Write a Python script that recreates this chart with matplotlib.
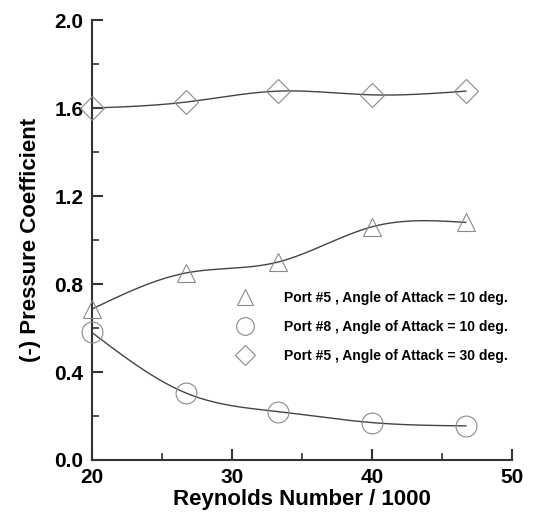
import numpy as np
import matplotlib
matplotlib.use("Agg")
import matplotlib.pyplot as plt
from matplotlib.ticker import MultipleLocator

plt.rcParams["font.family"] = ["Liberation Sans", "DejaVu Sans"]
plt.rcParams["font.weight"] = "bold"

# Data
reynolds = [20.0, 26.7, 33.3, 40.0, 46.7]
port5_aoa10 = [0.686, 0.85, 0.90, 1.06, 1.08]
port8_aoa10 = [0.58, 0.305, 0.22, 0.17, 0.155]
port5_aoa30 = [1.60, 1.627, 1.677, 1.66, 1.677]

series_labels = [
    "Port #5 , Angle of Attack = 10 deg.",
    "Port #8 , Angle of Attack = 10 deg.",
    "Port #5 , Angle of Attack = 30 deg.",
]


def natural_spline(x, y, n=200):
    """Natural cubic spline through (x, y)."""
    x = np.asarray(x, float)
    y = np.asarray(y, float)
    k = len(x)
    h = np.diff(x)
    A = np.zeros((k, k))
    b = np.zeros(k)
    A[0, 0] = 1.0
    A[-1, -1] = 1.0
    for i in range(1, k - 1):
        A[i, i - 1] = h[i - 1]
        A[i, i] = 2 * (h[i - 1] + h[i])
        A[i, i + 1] = h[i]
        b[i] = 6 * ((y[i + 1] - y[i]) / h[i] - (y[i] - y[i - 1]) / h[i - 1])
    m = np.linalg.solve(A, b)
    xs = np.linspace(x[0], x[-1], n)
    idx = np.clip(np.searchsorted(x, xs) - 1, 0, k - 2)
    x0, x1 = x[idx], x[idx + 1]
    y0, y1 = y[idx], y[idx + 1]
    m0, m1 = m[idx], m[idx + 1]
    hh = x1 - x0
    t1 = x1 - xs
    t0 = xs - x0
    ys = (m0 * t1 ** 3 + m1 * t0 ** 3) / (6 * hh) \
        + (y0 / hh - m0 * hh / 6) * t1 \
        + (y1 / hh - m1 * hh / 6) * t0
    return xs, ys


fig = plt.figure(figsize=(5.5, 5.2), dpi=100)
ax = fig.add_axes([0.167, 0.1154, 0.764, 0.846])

marker_color = "#8a8a8a"
line_color = "#444444"

series = [
    (port5_aoa10, "^", 13),
    (port8_aoa10, "o", 15),
    (port5_aoa30, "D", 12),
]
handles = []
for values, marker, size in series:
    xs, ys = natural_spline(reynolds, values)
    ax.plot(xs, ys, color=line_color, lw=1.0, zorder=2)
    h, = ax.plot(
        reynolds, values,
        linestyle="none",
        marker=marker,
        markersize=size,
        markerfacecolor="none",
        markeredgecolor=marker_color,
        markeredgewidth=0.8,
        zorder=3,
        clip_on=False
    )
    handles.append(h)

ax.set_xlim(20, 50)
ax.set_ylim(0.0, 2.0)
ax.xaxis.set_major_locator(MultipleLocator(10))
ax.xaxis.set_minor_locator(MultipleLocator(5))
ax.yaxis.set_major_locator(MultipleLocator(0.4))
ax.yaxis.set_minor_locator(MultipleLocator(0.2))
ax.yaxis.set_major_formatter(plt.FormatStrFormatter("%.1f"))

for side in ["top", "right"]:
    ax.spines[side].set_visible(False)
for side in ["left", "bottom"]:
    ax.spines[side].set_linewidth(1.5)
    ax.spines[side].set_color("#333333")

ax.tick_params(which="major", direction="in", length=8, width=1.5,
               color="#333333", labelsize=15, pad=6)
ax.tick_params(which="minor", direction="in", length=5, width=1.2,
               color="#333333")

ax.set_xlabel("Reynolds Number / 1000", fontsize=16, fontweight="bold",
              labelpad=1)
ax.set_ylabel("(-) Pressure Coefficient", fontsize=16, fontweight="bold",
              labelpad=10)

ax.legend(
    handles, series_labels,
    loc="upper left",
    bbox_to_anchor=(0.42, 0.44),
    bbox_transform=fig.transFigure,
    frameon=False,
    fontsize=10,
    markerscale=0.85,
    handlelength=2.0,
    handletextpad=1.8,
    labelspacing=1.07,
    borderpad=0,
    borderaxespad=0
)

fig.savefig("out.png", dpi=100)
